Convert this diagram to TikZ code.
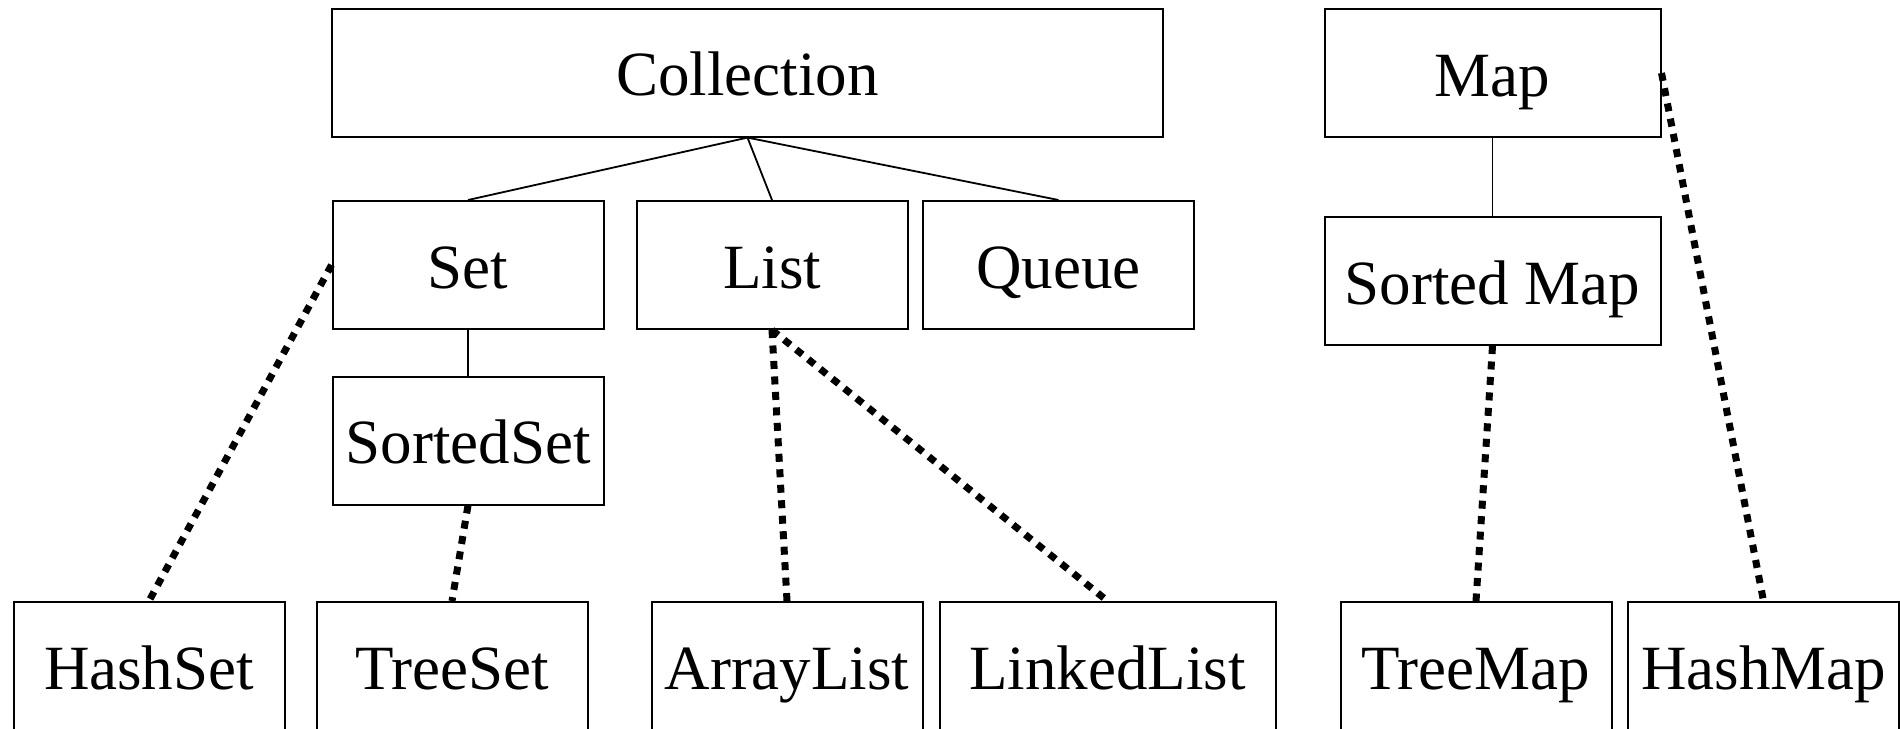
\documentclass[tikz,border=0pt]{standalone}
\usepackage{fontspec}
\setmainfont{Liberation Serif}
\begin{document}
\begin{tikzpicture}[x=0.5pt, y=-0.5pt,
  box/.style={draw=black, line width=1pt, rectangle, inner sep=0pt,
    minimum height=64pt, minimum width=135.5pt,
    text height=23pt, text depth=0pt,
    font=\fontsize{31.5pt}{36pt}\selectfont},
  widebox/.style={box, minimum width=168pt},
  link/.style={draw=black, line width=0.9pt},
  impl/.style={draw=black, line width=3.5pt, dash pattern=on 4pt off 3.75pt}]
\useasboundingbox (0,0) rectangle (1900,728);

% interfaces
\node[box, minimum width=415.5pt] (coll) at (747.5,72.6) {Collection};
\node[widebox] (map) at (1492.5,73) {Map};
\node[box] (set) at (468,265) {Set};
\node[box] (list) at (772,265) {List};
\node[box] (queue) at (1058.5,265) {Queue};
\node[widebox] (smap) at (1492.5,281) {Sorted Map};
\node[box] (sset) at (468,440.5) {SortedSet};

% implementations
\node[box] (hset) at (149,666) {HashSet};
\node[box] (tset) at (452,666) {TreeSet};
\node[box] (alist) at (787,666) {ArrayList};
\node[widebox] (llist) at (1107.5,666) {LinkedList};
\node[box] (tmap) at (1476,666) {TreeMap};
\node[box] (hmap) at (1763.5,666) {HashMap};

% inheritance
\draw[link] (coll.south) -- (set.north);
\draw[link] (coll.south) -- (list.north);
\draw[link] (coll.south) -- (queue.north);
\draw[link] (set.south) -- (sset.north);
\draw[link] (map.south) -- (smap.north);

% implementation links
\draw[impl] (set.west) -- (hset.north);
\draw[impl] (sset.south) -- (tset.north);
\draw[impl] (list.south) -- (alist.north);
\draw[impl] (list.south) -- (llist.north);
\draw[impl] (smap.south) -- (tmap.north);
\draw[impl] (map.east) -- (hmap.north);
\end{tikzpicture}
\end{document}
